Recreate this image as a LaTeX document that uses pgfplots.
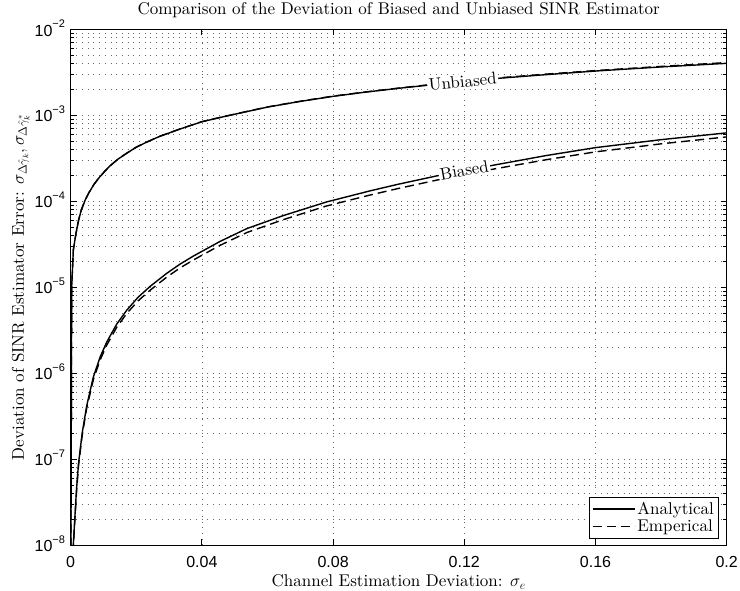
\documentclass[border=0pt]{standalone}
\usepackage{fontspec}
\setmainfont{lmroman10-regular.otf}[ItalicFont=lmroman10-italic.otf, BoldFont=lmroman10-bold.otf]
\usepackage{pgfplots}
\pgfplotsset{compat=1.18}
\newfontfamily\tf{Liberation Sans}
\newcommand{\yl}[1]{{\tf 10\raisebox{8.4pt}{\fontsize{11}{11}\selectfont −#1}}}
\newcommand{\bigtxt}{\fontsize{17}{20}\selectfont}
\begin{document}
\begin{tikzpicture}
\path[use as bounding box] (-70.7pt,-46pt) rectangle (669.3pt,545pt);
\begin{axis}[
  scale only axis, width=656pt, height=515.7pt,
  ymode=log, xmin=0, xmax=0.2, ymin=1e-8, ymax=1e-2,
  axis line style={line width=1pt},
  tick style={black, line width=0.8pt},
  major tick length=6pt, minor tick length=3.5pt,
  tick pos=both, tick align=inside,
  xtick={0,0.04,0.08,0.12,0.16,0.2},
  xticklabels={{\tf 0},{\tf 0.04},{\tf 0.08},{\tf 0.12},{\tf 0.16},{\tf 0.2}},
  ytick={1e-8,1e-7,1e-6,1e-5,1e-4,1e-3,1e-2},
  yticklabels={\yl{8},\yl{7},\yl{6},\yl{5},\yl{4},\yl{3},\yl{2}},
  minor ytick={2e-8,3e-8,4e-8,5e-8,6e-8,7e-8,8e-8,9e-8,
               2e-7,3e-7,4e-7,5e-7,6e-7,7e-7,8e-7,9e-7,
               2e-6,3e-6,4e-6,5e-6,6e-6,7e-6,8e-6,9e-6,
               2e-5,3e-5,4e-5,5e-5,6e-5,7e-5,8e-5,9e-5,
               2e-4,3e-4,4e-4,5e-4,6e-4,7e-4,8e-4,9e-4,
               2e-3,3e-3,4e-3,5e-3,6e-3,7e-3,8e-3,9e-3},
  xticklabel style={font=\fontsize{16}{16}\selectfont, anchor=base, inner sep=0pt, yshift=-22.3pt},
  yticklabel style={font=\fontsize{16}{16}\selectfont, anchor=base east, inner sep=0pt, xshift=-5.5pt, yshift=-6.7pt},
  xmajorgrids, ymajorgrids, yminorgrids,
  major grid style={black!60, line width=0.7pt, dash pattern=on 0.7pt off 5pt},
  minor grid style={black!60, line width=0.7pt, dash pattern=on 0.7pt off 5pt},
  title={Comparison of the Deviation of Biased and Unbiased SINR Estimator},
  title style={font=\bigtxt, anchor=base, yshift=9.3pt, inner sep=0pt},
  xlabel={Channel Estimation Deviation: $\sigma_e$},
  xlabel style={font=\bigtxt, at={(axis description cs:0.5,0)}, anchor=base, yshift=-41.7pt, inner sep=0pt},
  ylabel={Deviation of SINR Estimator Error: $\sigma_{\Delta\hat\gamma_k}, \sigma_{\Delta\hat\gamma_k^*}$},
  ylabel style={font=\bigtxt, at={(axis description cs:-0.0712,0.5)}, anchor=base, inner sep=0pt},
  legend style={at={(rel axis cs:0.9887,0.0122)}, anchor=south east, font=\bigtxt,
    draw=black, line width=0.8pt, inner sep=3pt, row sep=0pt, cells={anchor=west}},
  legend image code/.code={\draw[#1] (0pt,0pt) -- (42pt,0pt);},
]
% Unbiased, analytical
\addplot[black, line width=1.4pt] table {
x y
0 1e-9
0.0003 1.0e-5
0.0008 2.7e-5
0.0016 4.2e-5
0.0024 6.0e-5
0.0032 7.8e-5
0.0044 1.03e-4
0.0056 1.26e-4
0.007 1.55e-4
0.0084 1.83e-4
0.0105 2.25e-4
0.012 2.58e-4
0.0145 3.1e-4
0.017 3.6e-4
0.02 4.25e-4
0.0237 4.98e-4
0.027 5.65e-4
0.0335 6.95e-4
0.04 8.4e-4
0.047 9.7e-4
0.0531 1.09e-3
0.06 1.245e-3
0.07 1.45e-3
0.08 1.66e-3
0.09 1.86e-3
0.1 2.06e-3
0.11 2.26e-3
0.12 2.47e-3
0.1314 2.71e-3
0.145 2.97e-3
0.16 3.27e-3
0.18 3.65e-3
0.2 4.02e-3
};
\addlegendentry{Analytical}
% Unbiased, emperical
\addplot[black, line width=1.4pt, dash pattern=on 9pt off 5pt] table {
x y
0 1e-9
0.0003 1.0e-5
0.0008 2.7e-5
0.0016 4.2e-5
0.0024 6.0e-5
0.0032 7.9e-5
0.0044 1.03e-4
0.0056 1.27e-4
0.007 1.55e-4
0.0084 1.82e-4
0.0105 2.26e-4
0.012 2.58e-4
0.0145 3.11e-4
0.017 3.6e-4
0.02 4.26e-4
0.0237 4.97e-4
0.027 5.67e-4
0.0335 6.97e-4
0.04 8.43e-4
0.047 9.72e-4
0.0531 1.095e-3
0.06 1.25e-3
0.07 1.455e-3
0.08 1.67e-3
0.09 1.87e-3
0.1 2.07e-3
0.11 2.28e-3
0.12 2.49e-3
0.1314 2.74e-3
0.145 3.01e-3
0.16 3.31e-3
0.18 3.7e-3
0.2 4.1e-3
};
\addlegendentry{Emperical}
% Biased, analytical
\addplot[black, line width=1.4pt, forget plot] table {
x y
0 1e-12
0.0008 1.0e-8
0.0013 2.2e-8
0.0018 4.6e-8
0.0024 9.0e-8
0.0035 2.0e-7
0.0049 4.2e-7
0.0069 9.0e-7
0.009 1.55e-6
0.011 2.3e-6
0.014 3.7e-6
0.0171 5.4e-6
0.0205 7.6e-6
0.0242 1.02e-5
0.0293 1.45e-5
0.0333 1.85e-5
0.0374 2.3e-5
0.0455 3.4e-5
0.0537 4.8e-5
0.0648 6.8e-5
0.078 9.8e-5
0.0913 1.32e-4
0.1 1.58e-4
0.1116 1.97e-4
0.1288 2.62e-4
0.145 3.4e-4
0.16 4.2e-4
0.18 5.2e-4
0.2 6.24e-4
};
% Biased, emperical
\addplot[black, line width=1.4pt, dash pattern=on 9pt off 5pt, forget plot] table {
x y
0 1e-12
0.0008 0.95e-8
0.0013 2.05e-8
0.0018 4.3e-8
0.0024 8.5e-8
0.0035 1.88e-7
0.0049 3.95e-7
0.0069 8.4e-7
0.009 1.43e-6
0.011 2.12e-6
0.014 3.4e-6
0.0171 4.95e-6
0.0205 6.9e-6
0.0242 9.2e-6
0.0293 1.31e-5
0.0333 1.67e-5
0.0374 2.07e-5
0.0455 3.06e-5
0.0537 4.32e-5
0.0648 6.1e-5
0.078 8.8e-5
0.0913 1.18e-4
0.1 1.41e-4
0.1116 1.76e-4
0.1288 2.36e-4
0.145 3.04e-4
0.16 3.75e-4
0.18 4.65e-4
0.2 5.6e-4
};
\node[fill=white, inner sep=1.5pt, rotate=5.6, font=\bigtxt] at (axis cs:0.1195,2.46e-3) {Unbiased};
\node[fill=white, inner sep=1.5pt, rotate=10, font=\bigtxt] at (axis cs:0.12,2.3e-4) {Biased};
\end{axis}
\end{tikzpicture}
\end{document}
